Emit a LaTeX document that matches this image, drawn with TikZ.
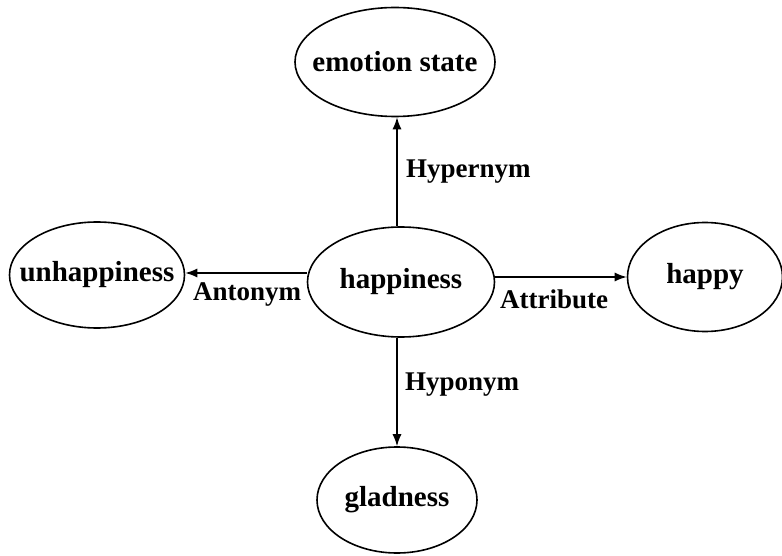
\documentclass[tikz,border=0pt]{standalone}
\usepackage{fontspec}
\setmainfont{Liberation Serif}
\usetikzlibrary{arrows.meta,shapes.geometric}
\newcommand{\nolap}[1]{\makebox[0pt][c]{#1}}
\tikzset{
    concept/.style={ellipse,draw,line width=1.6pt,inner sep=0pt,font=\fontsize{29}{31}\selectfont\bfseries},
    rel/.style={->,>={Latex[length=12pt,width=9pt]},line width=1.3pt,draw=black},
    rellabel/.style={inner sep=0pt,font=\fontsize{27}{29}\selectfont\bfseries},
}
\begin{document}
\begin{tikzpicture}[x=1pt,y=-1pt]
    \useasboundingbox (0,0) rectangle (782,556);
    \node[concept,minimum width=200pt,minimum height=109pt] (state) at (395,62) {\nolap{emotion state}};
    \node[concept,minimum width=187pt,minimum height=110pt] (happiness) at (401,282) {\nolap{happiness}};
    \node[concept,minimum width=175pt,minimum height=106pt] (unhappiness) at (97,275) {\nolap{unhappiness}};
    \node[concept,minimum width=155pt,minimum height=109pt] (happy) at (705,277) {\nolap{happy}};
    \node[concept,minimum width=160pt,minimum height=106pt] (gladness) at (397,500) {\nolap{gladness}};
    \draw[rel] (happiness.north -| 397,0) -- (state.south -| 397,0);
    \draw[rel] (happiness.west |- 0,273) -- (unhappiness.east |- 0,273);
    \draw[rel] (happiness.east |- 0,277) -- (happy.west |- 0,277);
    \draw[rel] (happiness.south -| 397,0) -- (gladness.north -| 397,0);
    \node[rellabel,anchor=west] (hyper) at (406,172) {Hypernym};
    \node[rellabel,anchor=west] (anto) at (193,295) {Antonym};
    \node[rellabel,anchor=west] (attr) at (500,299) {Attribute};
    \node[rellabel,anchor=west] (hypo) at (405,385) {Hyponym};
\end{tikzpicture}
\end{document}
